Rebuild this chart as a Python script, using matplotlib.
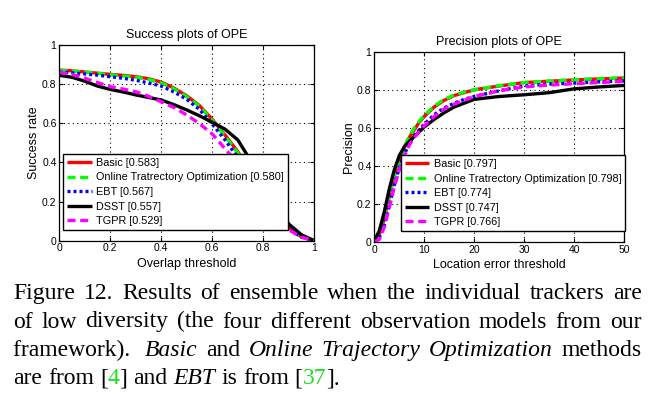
import matplotlib
matplotlib.use("Agg")
import matplotlib.pyplot as plt
import numpy as np

# ---------------- data ----------------
names = ["Basic", "Online Tratrectory Optimization", "EBT", "DSST", "TGPR"]
success_scores = ["0.583", "0.580", "0.567", "0.557", "0.529"]
precision_scores = ["0.797", "0.798", "0.774", "0.747", "0.766"]

overlap_thr = [0.0, 0.05, 0.1, 0.15, 0.2, 0.25, 0.3, 0.35, 0.4, 0.45, 0.5,
               0.55, 0.6, 0.65, 0.7, 0.75, 0.8, 0.85, 0.9, 0.95, 1.0]
succ_basic = [0.872, 0.868, 0.862, 0.856, 0.850, 0.845, 0.838, 0.828, 0.810, 0.780, 0.740,
              0.690, 0.620, 0.540, 0.455, 0.350, 0.240, 0.145, 0.065, 0.020, 0.0]
succ_oto = [0.870, 0.867, 0.861, 0.855, 0.848, 0.842, 0.835, 0.825, 0.806, 0.776, 0.736,
            0.686, 0.615, 0.535, 0.448, 0.345, 0.236, 0.142, 0.063, 0.019, 0.0]
succ_ebt = [0.862, 0.858, 0.852, 0.846, 0.838, 0.830, 0.820, 0.806, 0.790, 0.760, 0.722,
            0.670, 0.595, 0.515, 0.425, 0.325, 0.225, 0.135, 0.060, 0.018, 0.0]
succ_dsst = [0.845, 0.835, 0.815, 0.790, 0.773, 0.760, 0.745, 0.732, 0.719, 0.695, 0.668,
             0.638, 0.605, 0.570, 0.515, 0.410, 0.290, 0.180, 0.085, 0.030, 0.0]
succ_tgpr = [0.860, 0.850, 0.830, 0.808, 0.787, 0.775, 0.761, 0.738, 0.710, 0.680, 0.642,
             0.598, 0.545, 0.470, 0.395, 0.300, 0.210, 0.125, 0.055, 0.018, 0.0]

loc_thr = [0, 1, 2, 3, 4, 5, 6, 7, 8, 9, 10, 12, 14, 16, 18, 20, 25, 30, 35, 40, 45, 50]
prec_basic = [0.01, 0.04, 0.12, 0.24, 0.35, 0.43, 0.50, 0.55, 0.59, 0.63, 0.66, 0.71,
              0.745, 0.77, 0.785, 0.80, 0.82, 0.838, 0.845, 0.852, 0.857, 0.862]
prec_oto = [0.01, 0.04, 0.12, 0.24, 0.35, 0.43, 0.50, 0.555, 0.60, 0.635, 0.665, 0.715,
            0.75, 0.773, 0.788, 0.80, 0.822, 0.838, 0.846, 0.853, 0.858, 0.862]
prec_ebt = [0.005, 0.025, 0.09, 0.19, 0.30, 0.39, 0.46, 0.52, 0.56, 0.59, 0.62, 0.67,
            0.705, 0.73, 0.75, 0.765, 0.795, 0.82, 0.83, 0.835, 0.842, 0.847]
prec_dsst = [0.01, 0.06, 0.16, 0.28, 0.38, 0.455, 0.50, 0.53, 0.555, 0.58, 0.605, 0.645,
             0.68, 0.71, 0.73, 0.75, 0.765, 0.774, 0.785, 0.805, 0.815, 0.823]
prec_tgpr = [0.005, 0.015, 0.08, 0.18, 0.29, 0.38, 0.45, 0.51, 0.55, 0.58, 0.61, 0.66,
             0.70, 0.725, 0.745, 0.765, 0.795, 0.815, 0.825, 0.832, 0.838, 0.845]

succ_ticks = [0, 0.2, 0.4, 0.6, 0.8, 1]
succ_ticklabels = ["0", "0.2", "0.4", "0.6", "0.8", "1"]
prec_xticks = [0, 10, 20, 30, 40, 50]
prec_xticklabels = ["0", "10", "20", "30", "40", "50"]

# ---------------- styles ----------------
colors = ["#ff0000", "#00ff00", "#0000ff", "#000000", "#ff00ff"]
dashes = [None, (2.4, 1.4), (0.9, 0.9), None, (2.4, 1.4)]
LW = 2.4

plt.rcParams["font.family"] = ["Liberation Sans", "DejaVu Sans"]

fig = plt.figure(figsize=(6.66, 3.94), dpi=100)
W, H = 666.0, 394.0


def ax_rect(x0, x1, ytop, ybot):
    return [x0 / W, 1 - ybot / H, (x1 - x0) / W, (ybot - ytop) / H]


ax1 = fig.add_axes(ax_rect(59.3, 314.3, 45.0, 240.7))
ax2 = fig.add_axes(ax_rect(374.3, 624.0, 51.7, 242.3))


def style_axes(ax):
    ax.grid(True, linestyle=(0, (1, 3)), color="black", linewidth=0.8)
    ax.tick_params(direction="in", length=3, width=0.8, labelsize=7.5,
                   top=True, right=True, pad=2)
    for s in ax.spines.values():
        s.set_linewidth(0.9)
        s.set_color("black")
    ax.set_axisbelow(True)


succ_series = [succ_basic, succ_oto, succ_ebt, succ_dsst, succ_tgpr]
prec_series = [prec_basic, prec_oto, prec_ebt, prec_dsst, prec_tgpr]

for i in range(5):
    lbl = f"{names[i]} [{success_scores[i]}]"
    ln, = ax1.plot(overlap_thr, succ_series[i], color=colors[i], lw=LW, label=lbl,
                   solid_capstyle="butt", dash_capstyle="butt")
    if dashes[i] is not None:
        ln.set_dashes(dashes[i])
    lbl2 = f"{names[i]} [{precision_scores[i]}]"
    ln2, = ax2.plot(loc_thr, prec_series[i], color=colors[i], lw=LW, label=lbl2,
                    solid_capstyle="butt", dash_capstyle="butt")
    if dashes[i] is not None:
        ln2.set_dashes(dashes[i])

ax1.set_xlim(0, 1)
ax1.set_ylim(0, 1)
ax1.set_xticks(succ_ticks)
ax1.set_xticklabels(succ_ticklabels)
ax1.set_yticks(succ_ticks)
ax1.set_yticklabels(succ_ticklabels)
ax1.set_title("Success plots of OPE", fontsize=9, pad=5)
ax1.set_xlabel("Overlap threshold", fontsize=9, labelpad=3.5)
ax1.set_ylabel("Success rate", fontsize=9, labelpad=1.5)
style_axes(ax1)

ax2.set_xlim(0, 50)
ax2.set_ylim(0, 1)
ax2.set_xticks(prec_xticks)
ax2.set_xticklabels(prec_xticklabels)
ax2.set_yticks(succ_ticks)
ax2.set_yticklabels(succ_ticklabels)
ax2.set_title("Precision plots of OPE", fontsize=9, pad=5)
ax2.set_xlabel("Location error threshold", fontsize=9, labelpad=2.5)
ax2.set_ylabel("Precision", fontsize=9, labelpad=1.5)
style_axes(ax2)

leg_kw = dict(loc="lower left", fontsize=7.8, fancybox=False, framealpha=1,
              edgecolor="black", handlelength=2.3, handletextpad=0.4,
              labelspacing=0.42, borderpad=0.35, borderaxespad=0)
lg1 = ax1.legend(bbox_to_anchor=(0.016, 0.055), **leg_kw)
lg2 = ax2.legend(bbox_to_anchor=(0.106, 0.059), **leg_kw)
for lg in (lg1, lg2):
    lg.get_frame().set_linewidth(1.0)

# ---------------- caption ----------------
cap_lines = [
    [("Figure", "n", "k"), ("12.", "n", "k"), ("Results", "n", "k"), ("of", "n", "k"),
     ("ensemble", "n", "k"), ("when", "n", "k"), ("the", "n", "k"), ("individual", "n", "k"),
     ("trackers", "n", "k"), ("are", "n", "k")],
    [("of", "n", "k"), ("low", "n", "k"), ("diversity", "n", "k"), ("(the", "n", "k"),
     ("four", "n", "k"), ("different", "n", "k"), ("observation", "n", "k"),
     ("models", "n", "k"), ("from", "n", "k"), ("our", "n", "k")],
    [("framework). ", "n", "k"), ("Basic", "i", "k"), ("and", "n", "k"), ("Online", "i", "k"),
     ("Trajectory", "i", "k"), ("Optimization", "i", "k"), ("methods", "n", "k")],
    [("are", "n", "k"), ("from", "n", "k"), ("[", "n", "k"), ("4", "n", "g"), ("]", "n", "k"),
     ("and", "n", "k"), ("EBT", "i", "k"), ("is", "n", "k"), ("from", "n", "k"),
     ("[", "n", "k"), ("37", "n", "g"), ("].", "n", "k")],
]
# tokens that join the previous token without a space (brackets on line 4)
no_space_before = {(3, 3), (3, 4), (3, 10), (3, 11)}

cap_font = ["Liberation Serif", "DejaVu Serif"]
cap_size = 17.0
baselines = [299.3, 327.5, 356.0, 384.5]
left_px, right_px = 13.3, 641.7
green = "#22dd22"

fig.canvas.draw()
renderer = fig.canvas.get_renderer()


def make_text(s, style, col):
    return fig.text(0, 0, s, fontsize=cap_size, family=cap_font,
                    style=("italic" if style == "i" else "normal"),
                    color=(green if col == "g" else "black"),
                    va="baseline", ha="left")


space_t = make_text("a b", "n", "k")
ab_t = make_text("ab", "n", "k")
space_w = space_t.get_window_extent(renderer).width - ab_t.get_window_extent(renderer).width
space_t.remove()
ab_t.remove()

for li, toks in enumerate(cap_lines):
    texts = [make_text(s, st, c) for (s, st, c) in toks]
    widths = [t.get_window_extent(renderer).width for t in texts]
    gaps = []
    for ti in range(1, len(toks)):
        gaps.append(0 if (li, ti) in no_space_before else 1)
    n_gaps = sum(gaps)
    if li < len(cap_lines) - 1:
        gap_w = (right_px - left_px - sum(widths)) / n_gaps
    else:
        gap_w = space_w
    x = left_px
    yfrac = 1 - baselines[li] / H
    for ti, t in enumerate(texts):
        if ti > 0 and gaps[ti - 1]:
            x += gap_w
        t.set_position((x / W, yfrac))
        x += widths[ti]

fig.savefig("out.png", dpi=100)
